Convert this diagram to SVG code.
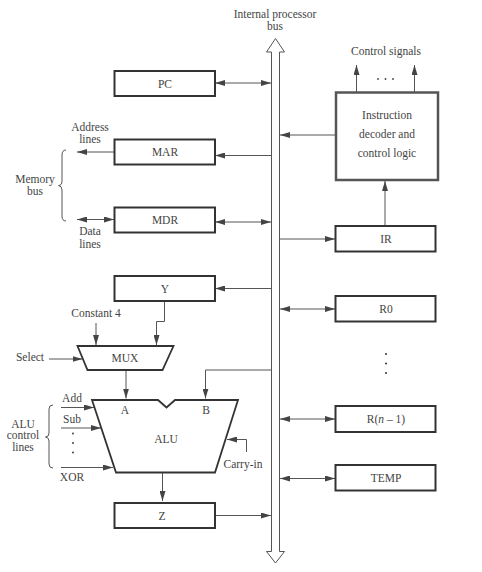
<svg xmlns="http://www.w3.org/2000/svg" width="482" height="572" viewBox="0 0 482 572">
<defs>
<style>
text{font-family:"Liberation Serif","Times New Roman",serif;font-size:11.5px;fill:#444;text-anchor:middle}
.box{fill:none;stroke:#333;stroke-width:2}
.ln{fill:none;stroke:#555;stroke-width:1}
.bus{fill:#fff;stroke:#555;stroke-width:1}
</style>
<marker id="ah" viewBox="0 0 10 6" refX="10" refY="3" markerWidth="10" markerHeight="6" markerUnits="userSpaceOnUse" orient="auto-start-reverse">
<path d="M0,0 L10,3 L0,6 Z" fill="#444"/>
</marker>
</defs>
<rect width="482" height="572" fill="#fff"/>

<g id="bus">
<path class="bus" d="M271.5,52 L266.5,52 L275.5,38.5 L284.5,52 L279.5,52 L279.5,551.5 L284.5,551.5 L275.5,563 L266.5,551.5 L271.5,551.5 Z"/>
<text x="275" y="18">Internal processor</text>
<text x="275" y="30">bus</text>
</g>

<g id="connectors">
<line class="ln" x1="215" y1="83" x2="271" y2="83" marker-start="url(#ah)" marker-end="url(#ah)"/>
<line class="ln" x1="271" y1="155.5" x2="215" y2="155.5" marker-end="url(#ah)"/>
<line class="ln" x1="114" y1="152" x2="77" y2="152" marker-end="url(#ah)"/>
<line class="ln" x1="215" y1="222" x2="271" y2="222" marker-start="url(#ah)" marker-end="url(#ah)"/>
<line class="ln" x1="77" y1="219.5" x2="114" y2="219.5" marker-start="url(#ah)" marker-end="url(#ah)"/>
<line class="ln" x1="271" y1="288.5" x2="215" y2="288.5" marker-end="url(#ah)"/>
<polyline class="ln" points="164.5,301 164.5,321.5 156.5,321.5 156.5,345" marker-end="url(#ah)"/>
<line class="ln" x1="96" y1="323" x2="96" y2="345" marker-end="url(#ah)"/>
<line class="ln" x1="49" y1="359" x2="82.5" y2="359" marker-end="url(#ah)"/>
<line class="ln" x1="126" y1="370" x2="126" y2="398.5" marker-end="url(#ah)"/>
<polyline class="ln" points="271,370 205.5,370 205.5,398.5" marker-end="url(#ah)"/>
<line class="ln" x1="61" y1="407.5" x2="94" y2="407.5" marker-end="url(#ah)"/>
<line class="ln" x1="61" y1="428" x2="101" y2="428" marker-end="url(#ah)"/>
<line class="ln" x1="61" y1="467.5" x2="113" y2="467.5" marker-end="url(#ah)"/>
<polyline class="ln" points="246.5,452 246.5,439.5 227,439.5" marker-end="url(#ah)"/>
<line class="ln" x1="162.5" y1="473" x2="162.5" y2="501" marker-end="url(#ah)"/>
<line class="ln" x1="215" y1="515.5" x2="271" y2="515.5" marker-end="url(#ah)"/>
<line class="ln" x1="336" y1="135" x2="280" y2="135" marker-end="url(#ah)"/>
<line class="ln" x1="356.5" y1="92" x2="356.5" y2="65" marker-end="url(#ah)"/>
<line class="ln" x1="414.5" y1="92" x2="414.5" y2="65" marker-end="url(#ah)"/>
<line class="ln" x1="385" y1="226" x2="385" y2="181" marker-end="url(#ah)"/>
<line class="ln" x1="280" y1="239" x2="335" y2="239" marker-end="url(#ah)"/>
<line class="ln" x1="280" y1="309" x2="335" y2="309" marker-start="url(#ah)" marker-end="url(#ah)"/>
<line class="ln" x1="280" y1="419" x2="335" y2="419" marker-start="url(#ah)" marker-end="url(#ah)"/>
<line class="ln" x1="280" y1="478.5" x2="335" y2="478.5" marker-start="url(#ah)" marker-end="url(#ah)"/>
</g>

<g id="pc"><rect class="box" x="114.5" y="71" width="100.5" height="25"/><text x="165" y="87.5">PC</text></g>
<g id="mar"><rect class="box" x="114.5" y="139.5" width="100.5" height="25"/><text x="165" y="156">MAR</text></g>
<g id="mdr"><rect class="box" x="114.5" y="207.5" width="100.5" height="25"/><text x="165" y="224">MDR</text></g>
<g id="y"><rect class="box" x="114.5" y="276" width="100.5" height="25"/><text x="165" y="292.5">Y</text></g>
<g id="z"><rect class="box" x="114.5" y="503" width="100.5" height="25"/><text x="162" y="519.5">Z</text></g>

<g id="memlabels">
<text x="90" y="131">Address</text>
<text x="90" y="143">lines</text>
<text x="90" y="235">Data</text>
<text x="90" y="248">lines</text>
<text x="35" y="183">Memory</text>
<text x="35" y="195">bus</text>
<path class="ln" d="M66,150 Q62,150 62,155 L62,181 Q62,185.5 58.5,185.5 Q62,186 62,190 L62,216 Q62,221 66,221"/>
</g>

<g id="mux">
<path d="M77.5,346 L173.5,346 L162.5,370 L87.5,370 Z" fill="none" stroke="#333" stroke-width="1.8"/>
<text x="125" y="362">MUX</text>
<text x="96" y="317">Constant 4</text>
<text x="30" y="360.5">Select</text>
</g>

<g id="alu">
<path d="M92,400 L158,400 L166.5,407.5 L175,400 L238,400 L215,472.5 L116,472.5 Z" fill="none" stroke="#333" stroke-width="1.8"/>
<text x="125" y="414">A</text>
<text x="206" y="414">B</text>
<text x="166" y="443">ALU</text>
<text x="72" y="402">Add</text>
<text x="72" y="423">Sub</text>
<text x="72" y="481">XOR</text>
<circle cx="73" cy="433.5" r="1" fill="#444"/>
<circle cx="73" cy="443" r="1" fill="#444"/>
<circle cx="73" cy="452.5" r="1" fill="#444"/>
<text x="23" y="428">ALU</text>
<text x="23" y="439">control</text>
<text x="23" y="450.5">lines</text>
<path class="ln" d="M53,405 Q49,405 49,409 L49,433 Q49,437 45.5,437 Q49,437.5 49,441 L49,464 Q49,468 53,468"/>
<text x="243" y="468">Carry-in</text>
</g>

<g id="decoder">
<rect x="336" y="92.5" width="102" height="87.5" fill="none" stroke="#555" stroke-width="2.5"/>
<text x="387" y="119">Instruction</text>
<text x="387" y="138">decoder and</text>
<text x="387" y="157">control logic</text>
<text x="386" y="55">Control signals</text>
<circle cx="378" cy="79" r="0.9" fill="#444"/>
<circle cx="385.5" cy="79" r="0.9" fill="#444"/>
<circle cx="393" cy="79" r="0.9" fill="#444"/>
</g>

<g id="ir"><rect class="box" x="335.5" y="226" width="100" height="25.5"/><text x="386" y="243">IR</text></g>
<g id="r0"><rect class="box" x="335.5" y="296" width="100" height="25.5"/><text x="386" y="313">R0</text></g>
<g id="rdots">
<circle cx="386" cy="354" r="1.1" fill="#444"/>
<circle cx="386" cy="363.5" r="1.1" fill="#444"/>
<circle cx="386" cy="373" r="1.1" fill="#444"/>
</g>
<g id="rn1"><rect class="box" x="335.5" y="406" width="100" height="26"/><text x="386" y="423">R(<tspan font-style="italic">n</tspan> – 1)</text></g>
<g id="temp"><rect class="box" x="335.5" y="465" width="100" height="25.5"/><text x="386" y="482">TEMP</text></g>
</svg>
